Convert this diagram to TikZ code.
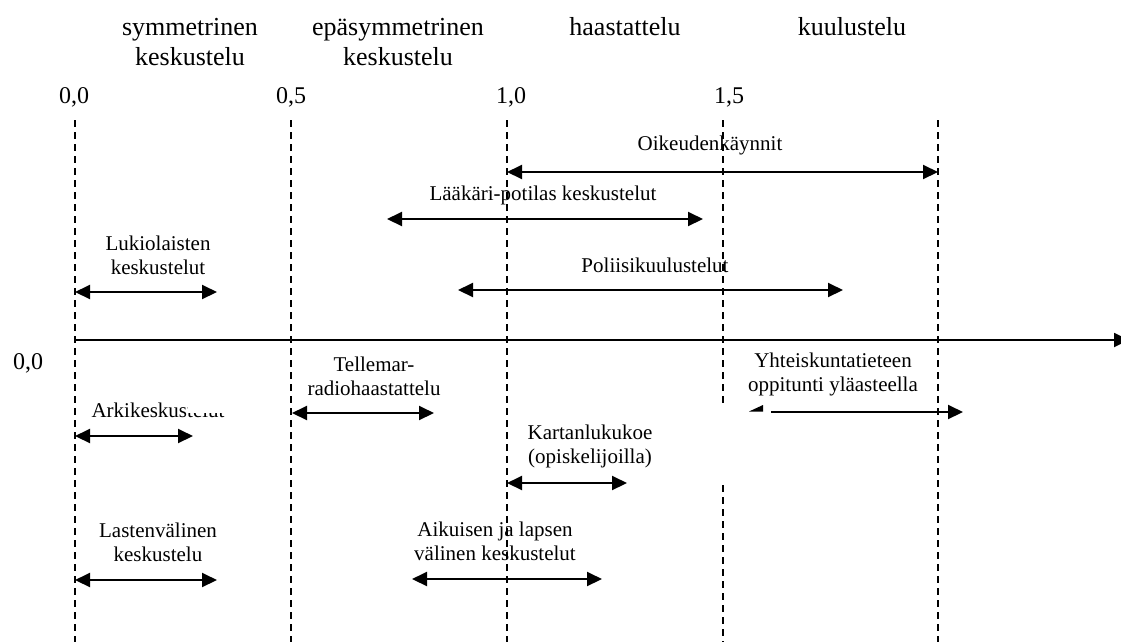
\documentclass[tikz,border=0pt]{standalone}
\usepackage{fontspec}
\setmainfont{Liberation Serif}
\usetikzlibrary{arrows.meta}
\begin{document}
\begin{tikzpicture}[x=1pt,y=-1pt,
  span/.style={{Triangle[length=15pt,width=14pt]}-{Triangle[length=15pt,width=14pt]}, line width=2pt},
  oneway/.style={-{Triangle[length=15pt,width=14pt]}, line width=2pt},
  axisline/.style={-{Triangle[length=15pt,width=14pt]}, line width=1.8pt},
  guide/.style={line width=1.6pt, dash pattern=on 7pt off 5pt},
  heading/.style={font=\fontsize{26}{30}\selectfont, align=center, inner sep=0pt},
  tick/.style={font=\fontsize{24}{26}\selectfont, inner sep=0pt},
  lbl/.style={font=\fontsize{21}{24}\selectfont, align=center, inner sep=0pt}]
\useasboundingbox (0,0) rectangle (1121,641);
\clip (0,0) rectangle (1121,641);

% category headings
\node[heading] (hsym) at (190,42) {symmetrinen\\keskustelu};
\node[heading] (hasym) at (398,42) {epäsymmetrinen\\keskustelu};
\node[heading] (hhaas) at (625,27) {haastattelu};
\node[heading] (hkuul) at (852,27) {kuulustelu};

% scale values
\node[tick] (t00) at (74,97) {0,0};
\node[tick] (t05) at (291,97) {0,5};
\node[tick] (t10) at (511,97) {1,0};
\node[tick] (t15) at (729,97) {1,5};
\node[tick] (zero) at (28,363) {0,0};

% dashed guide lines
\coordinate (g0t) at (75,120);   \coordinate (g0b) at (75,645);
\coordinate (g1t) at (291,120);  \coordinate (g1b) at (291,645);
\coordinate (g2t) at (507,120);  \coordinate (g2b) at (507,645);
\coordinate (g3t) at (723,120);  \coordinate (g3m) at (723,407);
\coordinate (g3n) at (723,485);  \coordinate (g3b) at (723,645);
\coordinate (g4t) at (938,120);  \coordinate (g4b) at (938,645);
\draw[guide] (g0t) -- (g0b);
\draw[guide] (g1t) -- (g1b);
\draw[guide] (g2t) -- (g2b);
\draw[guide] (g3t) -- (g3m);
\draw[guide] (g3n) -- (g3b);
\draw[guide] (g4t) -- (g4b);

% horizontal axis
\coordinate (ax0) at (75,340);
\coordinate (ax1) at (1129,340);
\draw[axisline] (ax0) -- (ax1);

% ranges above the axis
\node[lbl] (oik) at (710,145) {Oikeudenkäynnit};
\coordinate (oikA) at (507,172); \coordinate (oikB) at (938,172);
\draw[span] (oikA) -- (oikB);

\node[lbl] (laak) at (543,195) {Lääkäri-potilas keskustelut};
\coordinate (laakA) at (387,219); \coordinate (laakB) at (703,219);
\draw[span] (laakA) -- (laakB);

\node[lbl] (luk) at (158,255) {Lukiolaisten\\keskustelut};
\coordinate (lukA) at (75,292); \coordinate (lukB) at (217,292);
\draw[span] (lukA) -- (lukB);

\node[lbl] (pol) at (655,265) {Poliisikuulustelut};
\coordinate (polA) at (458,290); \coordinate (polB) at (843,290);
\draw[span] (polA) -- (polB);

% ranges below the axis
\node[lbl] (tel) at (374,376) {Tellemar-\\radiohaastattelu};
\coordinate (telA) at (292,413); \coordinate (telB) at (434,413);
\draw[span] (telA) -- (telB);

\node[lbl] (arki) at (158,410) {Arkikeskustelut};
% the end of this label is partly masked
\fill[white] (188,397) rectangle (228,413);
\coordinate (arkiA) at (75,436); \coordinate (arkiB) at (193,436);
\draw[span] (arkiA) -- (arkiB);

\node[lbl] (yht) at (833,374) {Yhteiskuntatieteen\\oppitunti yläasteella};
\coordinate (yhtA) at (771,412); \coordinate (yhtB) at (963,412);
\draw[oneway] (yhtA) -- (yhtB);
\fill (749,411.5) -- (763,405) -- (763,411.5) -- cycle;

\node[lbl] (kart) at (590,446) {Kartanlukukoe\\(opiskelijoilla)};
\coordinate (kartA) at (507,483); \coordinate (kartB) at (627,483);
\draw[span] (kartA) -- (kartB);

\node[lbl] (last) at (158,542) {Lastenvälinen\\keskustelu};
\coordinate (lastA) at (75,580); \coordinate (lastB) at (217,580);
\draw[span] (lastA) -- (lastB);

\node[lbl] (aik) at (495,541) {Aikuisen ja lapsen\\välinen keskustelut};
\coordinate (aikA) at (412,579); \coordinate (aikB) at (602,579);
\draw[span] (aikA) -- (aikB);
\end{tikzpicture}
\end{document}
